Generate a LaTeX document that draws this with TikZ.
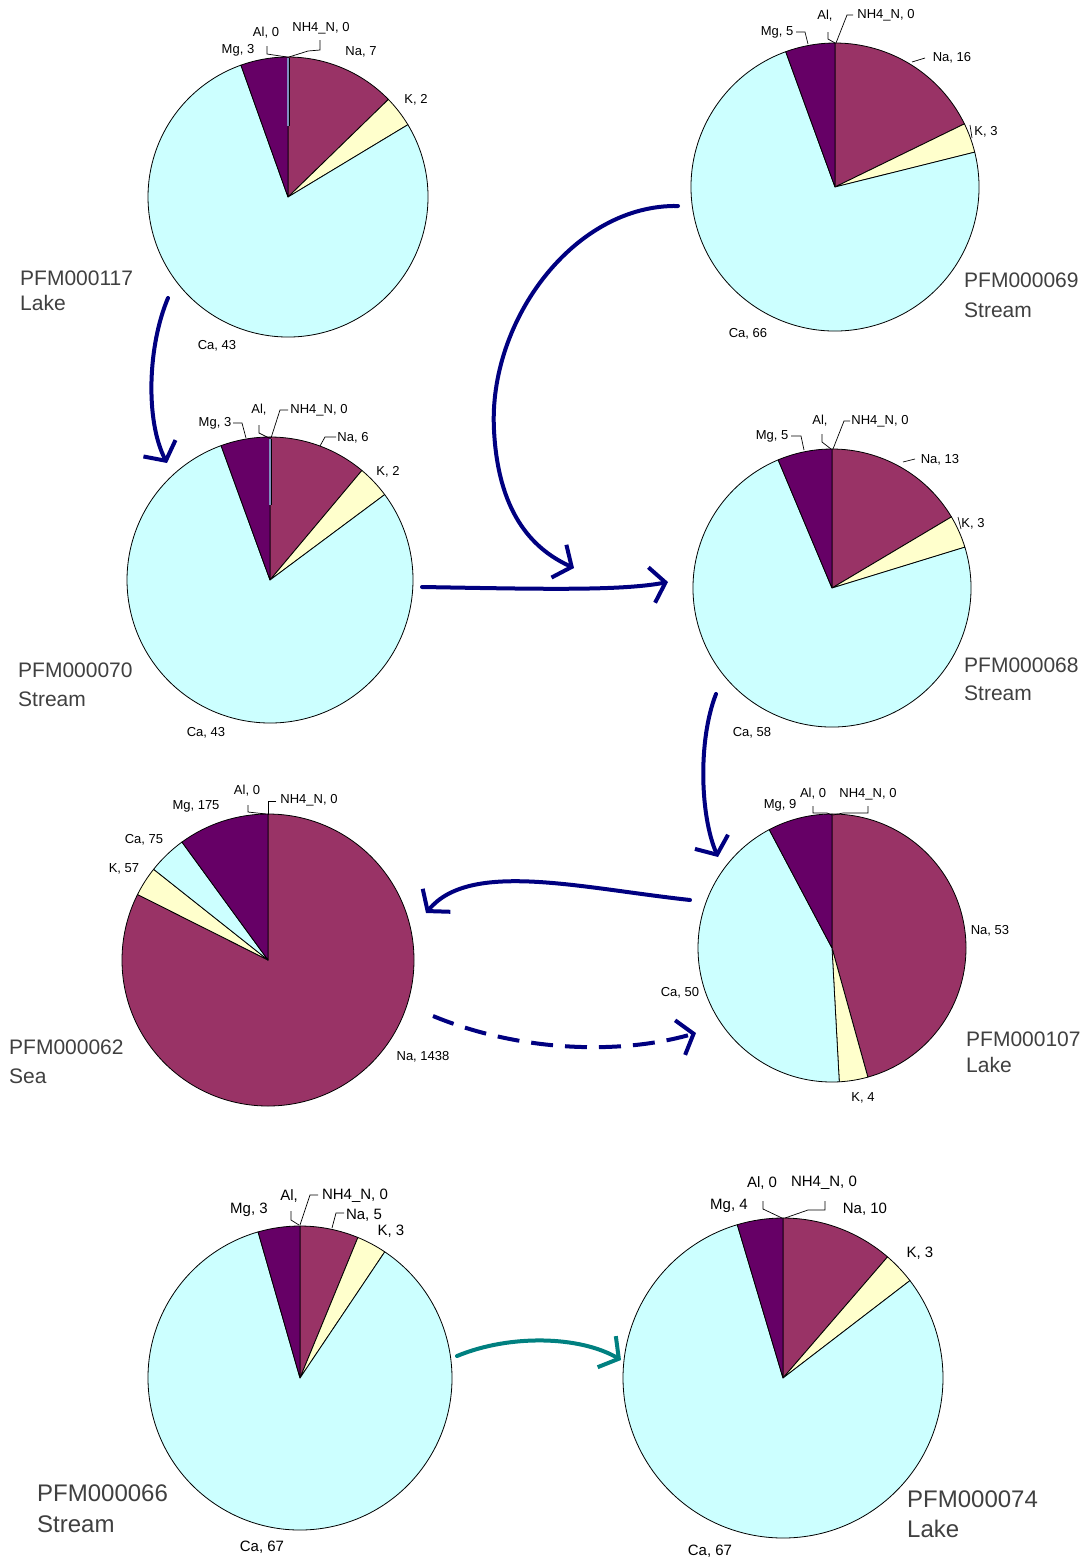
\documentclass[tikz,border=0pt]{standalone}
\usepackage{fontspec}
\setmainfont{Liberation Sans}
\usetikzlibrary{arrows.meta}
\definecolor{naC}{HTML}{993366}
\definecolor{kC}{HTML}{FFFFCC}
\definecolor{caC}{HTML}{CCFFFF}
\definecolor{mgC}{HTML}{660066}
\definecolor{navyC}{HTML}{000080}
\definecolor{tealC}{HTML}{008080}
\definecolor{nameC}{HTML}{404040}
\definecolor{zeroC}{HTML}{8090C0}
\tikzset{
  slice/.style={draw=black, line width=0.8pt, line join=round},
  lab/.style={inner sep=0pt, font=\fontsize{13}{13}\selectfont},
  labB/.style={inner sep=0pt, font=\fontsize{15}{15}\selectfont},
  lead/.style={draw=black, line width=0.7pt},
  sn/.style={inner sep=0pt, anchor=north west, align=left, text=nameC},
  flow/.style={draw=navyC, line width=4pt, line cap=round,
    -{Straight Barb[length=14pt,width=36pt,line width=4pt]}},
  flowT/.style={flow, draw=tealC},
}
% #1 name, #2 x, #3 y, #4 r, #5 Na, #6 K, #7 Ca, #8 Mg
\newcommand\mypiechart[8]{%
  \pgfmathsetmacro\pieTot{#5+#6+#7+#8}%
  \pgfmathsetmacro\pieA{90-(#5/\pieTot)*360}%
  \pgfmathsetmacro\pieB{\pieA-(#6/\pieTot)*360}%
  \pgfmathsetmacro\pieC{\pieB-(#7/\pieTot)*360}%
  \coordinate (#1) at (#2,-#3);
  \filldraw[slice,fill=naC] (#1) -- ++(90:#4pt) arc[start angle=90,end angle=\pieA,radius=#4pt] -- cycle;
  \filldraw[slice,fill=kC] (#1) -- ++(\pieA:#4pt) arc[start angle=\pieA,end angle=\pieB,radius=#4pt] -- cycle;
  \filldraw[slice,fill=caC] (#1) -- ++(\pieB:#4pt) arc[start angle=\pieB,end angle=\pieC,radius=#4pt] -- cycle;
  \filldraw[slice,fill=mgC] (#1) -- ++(\pieC:#4pt) arc[start angle=\pieC,end angle=-270,radius=#4pt] -- cycle;
}
% #1 name, #2 x, #3 ytop, #4 font size, #5 skip, #6 text
\newcommand\sname[6]{%
  \node[sn, font=\fontsize{#4}{#5}\selectfont] (#1) at (#2,-#3) {#6};
}
\begin{document}
\begin{tikzpicture}[x=1pt,y=1pt]
\useasboundingbox (0,0) rectangle (1086,-1559);
\fill[white] (0,0) rectangle (1086,-1559);

% ---------- Pie 1: PFM000117 Lake
\mypiechart{p1}{288}{197}{140}{7}{2}{43}{3}
\draw[black, line width=3pt] (288,-58) -- (288,-126);
\draw[zeroC, line width=1.6pt] (288,-58) -- (288,-126);
\node[lab] (p1al) at (266,-33) {Al, 0};
\node[lab] (p1nh) at (321,-28) {NH4\_N, 0};
\node[lab] (p1mg) at (238,-50) {Mg, 3};
\node[lab] (p1na) at (361,-52) {Na, 7};
\node[lab] (p1k) at (416,-100) {K, 2};
\node[lab] (p1ca) at (217,-346) {Ca, 43};
\draw[lead] (267,-46) -- (267,-54) -- (287,-57);
\draw[lead] (320,-40) -- (320,-50) -- (308,-51) -- (289,-57);
\sname{n1}{20}{271}{21}{25}{PFM000117\\Lake}

% ---------- Pie 2: PFM000069 Stream
\mypiechart{p2}{835}{187}{144}{16}{3}{66}{5}
\node[lab] (p2mg) at (777,-32) {Mg, 5};
\node[lab] (p2al) at (825,-16) {Al,};
\node[lab] (p2nh) at (886,-15) {NH4\_N, 0};
\node[lab] (p2na) at (952,-58) {Na, 16};
\node[lab] (p2k) at (986,-132) {K, 3};
\node[lab] (p2ca) at (748,-334) {Ca, 66};
\draw[lead] (796,-32) -- (805,-32) -- (808,-44);
\draw[lead] (828,-32) -- (828,-39) -- (835,-43);
\draw[lead] (853,-15) -- (847,-15) -- (836,-43);
\draw[lead] (912,-62) -- (925,-58);
\draw[lead] (970,-125) -- (972,-138);
\sname{n2}{964}{273}{21}{30}{PFM000069\\Stream}

% ---------- Pie 3: PFM000070 Stream
\mypiechart{p3}{270}{580}{143}{6}{2}{43}{3}
\draw[black, line width=3pt] (270,-439) -- (270,-505);
\draw[zeroC, line width=1.6pt] (270,-439) -- (270,-505);
\node[lab] (p3mg) at (215,-423) {Mg, 3};
\node[lab] (p3al) at (259,-410) {Al,};
\node[lab] (p3nh) at (319,-410) {NH4\_N, 0};
\node[lab] (p3na) at (353,-438) {Na, 6};
\node[lab] (p3k) at (388,-472) {K, 2};
\node[lab] (p3ca) at (206,-733) {Ca, 43};
\draw[lead] (233,-423) -- (242,-423) -- (246,-438);
\draw[lead] (259,-425) -- (259,-433) -- (269,-438);
\draw[lead] (288,-410) -- (280,-410) -- (271,-438);
\draw[lead] (336,-437) -- (325,-437) -- (320,-446);
\sname{n3}{18}{663}{21}{29}{PFM000070\\Stream}

% ---------- Pie 4: PFM000068 Stream
\mypiechart{p4}{832}{588}{139}{13}{3}{58}{5}
\node[lab] (p4mg) at (772,-436) {Mg, 5};
\node[lab] (p4al) at (820,-421) {Al,};
\node[lab] (p4nh) at (880,-421) {NH4\_N, 0};
\node[lab] (p4na) at (940,-460) {Na, 13};
\node[lab] (p4k) at (973,-524) {K, 3};
\node[lab] (p4ca) at (752,-733) {Ca, 58};
\draw[lead] (791,-436) -- (801,-436) -- (804,-450);
\draw[lead] (822,-434) -- (822,-442) -- (831,-449);
\draw[lead] (850,-421) -- (844,-421) -- (833,-449);
\draw[lead] (903,-462) -- (915,-459);
\draw[lead] (958,-517) -- (961,-529);
\sname{n4}{964}{658}{21}{28}{PFM000068\\Stream}

% ---------- Pie 5: PFM000062 Sea
\mypiechart{p5}{268}{960}{146}{1438}{57}{75}{175}
\node[lab] (p5al) at (247,-791) {Al, 0};
\node[lab] (p5nh) at (309,-800) {NH4\_N, 0};
\node[lab] (p5mg) at (196,-806) {Mg, 175};
\node[lab] (p5ca) at (144,-840) {Ca, 75};
\node[lab] (p5k) at (124,-869) {K, 57};
\node[lab] (p5na) at (423,-1057) {Na, 1438};
\draw[lead] (248,-805) -- (248,-812) -- (266,-814);
\draw[lead] (276,-801) -- (268,-801) -- (268,-815);
\sname{n5}{9}{1040}{21}{29}{PFM000062\\Sea}

% ---------- Pie 6: PFM000107 Lake
\mypiechart{p6}{832}{948}{134}{53}{4}{50}{9}
\node[lab] (p6mg) at (780,-805) {Mg, 9};
\node[lab] (p6al) at (813,-794) {Al, 0};
\node[lab] (p6nh) at (868,-794) {NH4\_N, 0};
\node[lab] (p6na) at (990,-931) {Na, 53};
\node[lab] (p6k) at (863,-1098) {K, 4};
\node[lab] (p6ca) at (680,-993) {Ca, 50};
\draw[lead] (813,-806) -- (813,-813) -- (827,-813) -- (832,-815);
\draw[lead] (868,-806) -- (868,-813) -- (843,-813) -- (833,-815);
\sname{n6}{966}{1032}{21}{26}{PFM000107\\Lake}

% ---------- Pie 7: PFM000066 Stream (slice sizes as drawn in the reference)
\mypiechart{p7}{300}{1378}{152}{22.4}{11.5}{310.1}{16}
\node[labB] (p7mg) at (249,-1210) {Mg, 3};
\node[labB] (p7al) at (289,-1196) {Al,};
\node[labB] (p7nh) at (355,-1196) {NH4\_N, 0};
\node[labB] (p7na) at (364,-1215) {Na, 5};
\node[labB] (p7k) at (391,-1231) {K, 3};
\node[labB] (p7ca) at (262,-1547) {Ca, 67};
\draw[lead] (291,-1211) -- (291,-1220) -- (299,-1225);
\draw[lead] (318,-1195) -- (310,-1195) -- (300,-1225);
\draw[lead] (344,-1213) -- (336,-1213) -- (332,-1228);
\sname{n7}{37}{1485}{24}{31}{PFM000066\\Stream}

% ---------- Pie 8: PFM000074 Lake
\mypiechart{p8}{783}{1378}{160}{40.8}{11.7}{290.9}{16.6}
\node[labB] (p8al) at (762,-1183) {Al, 0};
\node[labB] (p8nh) at (824,-1183) {NH4\_N, 0};
\node[labB] (p8mg) at (729,-1206) {Mg, 4};
\node[labB] (p8na) at (865,-1209) {Na, 10};
\node[labB] (p8k) at (920,-1253) {K, 3};
\node[labB] (p8ca) at (710,-1551) {Ca, 67};
\draw[lead] (763,-1201) -- (763,-1209) -- (782,-1218);
\draw[lead] (825,-1201) -- (825,-1210) -- (808,-1210) -- (785,-1218);
\sname{n8}{907}{1491}{24}{30}{PFM000074\\Lake}

% ---------- Flow arrows
\coordinate (a1s) at (168,-298);  \coordinate (a1e) at (167,-463);
\coordinate (a2s) at (678,-206);  \coordinate (a2m) at (494,-430); \coordinate (a2e) at (574,-568);
\coordinate (a3s) at (422,-587);  \coordinate (a3e) at (668,-582);
\coordinate (a4s) at (716,-694);  \coordinate (a4e) at (718,-857);
\coordinate (a5s) at (690,-900);  \coordinate (a5e) at (426,-913);
\coordinate (a6s) at (433,-1016); \coordinate (a6e) at (696,-1033);
\coordinate (a7s) at (457,-1356); \coordinate (a7e) at (621,-1360);

\draw[flow] (a1s) .. controls (148,-345) and (145,-420) .. (a1e);
\draw[flow] (a2s) .. controls (575,-204) and (488,-320) .. (a2m)
                  .. controls (498,-510) and (530,-548) .. (a2e);
\draw[flow] (a3s) .. controls (540,-589) and (620,-591) .. (a3e);
\draw[flow] (a4s) .. controls (698,-740) and (700,-815) .. (a4e);
\draw[flow] (a5s) .. controls (580,-888) and (470,-860) .. (a5e);
\draw[flow, dash pattern=on 22pt off 12pt, line cap=butt]
  (a6s) .. controls (520,-1052) and (620,-1055) .. (a6e);
\draw[flowT] (a7s) .. controls (510,-1334) and (580,-1336) .. (a7e);
\end{tikzpicture}
\end{document}
